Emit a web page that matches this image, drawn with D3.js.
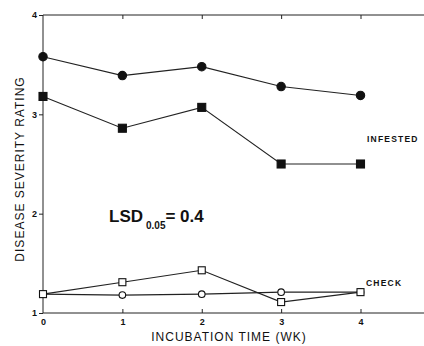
<!DOCTYPE html>
<html>
<head>
<meta charset="utf-8">
<style>
  body { margin: 0; background: #fff; }
  svg { font-family: "Liberation Sans", Arial, sans-serif; }
  .axis text { font-size: 9px; font-weight: bold; fill: #111; }
  .axis path, .axis line { stroke: #222; }
  .title { font-size: 12px; fill: #111; letter-spacing: 1px; }
</style>
</head>
<body>
<script src="https://d3js.org/d3.v7.min.js"></script>
<script>
var weeks = [0, 1, 2, 3, 4];
var infestedCircle = [3.58, 3.39, 3.48, 3.28, 3.19];
var infestedSquare = [3.18, 2.86, 3.07, 2.50, 2.50];
var checkCircle = [1.19, 1.18, 1.19, 1.21, 1.21];
var checkSquare = [1.19, 1.31, 1.43, 1.11, 1.21];
var yTicks = [1, 2, 3, 4];

var width = 424, height = 346;
var x = d3.scaleLinear().domain([0, 4.8]).range([43, 424]);
var y = d3.scaleLinear().domain([1, 4]).range([313, 15]);

var svg = d3.select("body").append("svg")
    .attr("width", width).attr("height", height);

// frame: left, top, bottom
svg.append("g").attr("class", "axis")
    .attr("transform", "translate(" + x(0) + ",0)")
    .call(d3.axisLeft(y).tickValues(yTicks).tickSize(4).tickPadding(2).tickFormat(d3.format("d")))
    .call(function(g) { g.select(".domain").attr("d", "M0," + y(4) + "V" + y(1)); });

svg.append("g").attr("class", "axis")
    .attr("transform", "translate(0," + y(1) + ")")
    .call(d3.axisBottom(x).tickValues(weeks).tickSize(-4).tickPadding(6).tickFormat(d3.format("d")))
    .call(function(g) {
        g.select(".domain").attr("d", "M" + x(0) + ",0H424");
        g.selectAll(".tick").filter(function(d) { return d === 0; }).select("line").remove();
    });

svg.append("g").attr("class", "axis")
    .attr("transform", "translate(0," + y(4) + ")")
    .call(d3.axisTop(x).tickValues([1, 2, 3, 4]).tickSize(-4).tickFormat(""))
    .call(function(g) { g.select(".domain").attr("d", "M" + x(0) + ",0H424"); });

var line = d3.line()
    .x(function(d, i) { return x(weeks[i]); })
    .y(function(d) { return y(d); });

function series(vals, shape, filled) {
    svg.append("path").datum(vals)
        .attr("fill", "none").attr("stroke", "#222").attr("stroke-width", 1.1)
        .attr("d", line);
    var g = svg.append("g");
    vals.forEach(function(v, i) {
        var cx = x(weeks[i]), cy = y(v);
        if (shape === "circle") {
            g.append("circle").attr("cx", cx).attr("cy", cy)
                .attr("r", filled ? 4.2 : 3.3)
                .attr("fill", filled ? "#111" : "#fff")
                .attr("stroke", "#111").attr("stroke-width", 1.1);
        } else {
            var s = filled ? 8 : 7;
            g.append("rect").attr("x", cx - s / 2).attr("y", cy - s / 2)
                .attr("width", s).attr("height", s)
                .attr("fill", filled ? "#111" : "#fff")
                .attr("stroke", "#111").attr("stroke-width", 1.1);
        }
    });
}

series(checkCircle, "circle", false);
series(checkSquare, "square", false);
series(infestedSquare, "square", true);
series(infestedCircle, "circle", true);

svg.append("text").attr("x", 367).attr("y", 142)
    .style("font-size", "8.5px").style("letter-spacing", "1.2px").style("font-weight", "bold")
    .attr("fill", "#111").text("INFESTED");
svg.append("text").attr("x", 366).attr("y", 286)
    .style("font-size", "8.5px").style("letter-spacing", "1.2px").style("font-weight", "bold")
    .attr("fill", "#111").text("CHECK");

var lsd = svg.append("text").attr("x", 109).attr("y", 222)
    .attr("fill", "#111").style("font-weight", "bold").style("font-size", "17px");
lsd.append("tspan").text("LSD");
lsd.append("tspan").attr("dx", 3).attr("dy", 7).style("font-size", "10px").text("0.05");
lsd.append("tspan").attr("dy", -7).text("= 0.4");

svg.append("text").attr("class", "title")
    .attr("transform", "translate(24," + 169 + ") rotate(-90)")
    .attr("text-anchor", "middle").text("DISEASE SEVERITY RATING");

svg.append("text").attr("class", "title")
    .attr("x", 229).attr("y", 341)
    .attr("text-anchor", "middle").text("INCUBATION TIME (WK)");
</script>
</body>
</html>
